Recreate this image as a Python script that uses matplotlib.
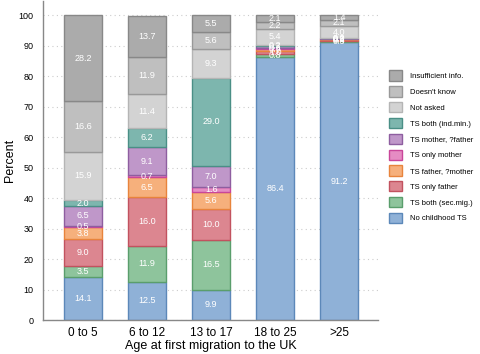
import numpy as np
import matplotlib
matplotlib.use("Agg")
import matplotlib.pyplot as plt
from matplotlib.patches import Patch

plt.rcParams['font.family'] = ['Liberation Sans', 'DejaVu Sans']

groups = ["0 to 5", "6 to 12", "13 to 17", "18 to 25", ">25"]

# stacked bottom to top
no_ts = [14.1, 12.5, 9.9, 86.4, 91.2]
both_sec = [3.5, 11.9, 16.5, 0.8, 0.3]
only_father = [9.0, 16.0, 10.0, 1.0, 0.4]
father_qmother = [3.8, 6.5, 5.6, 0.9, 0.3]
only_mother = [0.5, 0.7, 1.6, 0.3, 0.1]
mother_qfather = [6.5, 9.1, 7.0, 0.7, 0.2]
both_ind = [2.0, 6.2, 29.0, 0.2, 0.0]
not_asked = [15.9, 11.4, 9.3, 5.4, 4.0]
dont_know = [16.6, 11.9, 5.6, 2.2, 2.1]
insufficient = [28.2, 13.7, 5.5, 2.1, 1.4]

series = [
    ("No childhood TS", no_ts, "#8fb1d7", "#5c88b9"),
    ("TS both (sec.mig.)", both_sec, "#8ec49c", "#5a9e6c"),
    ("TS only father", only_father, "#dc8690", "#c2525f"),
    ("TS father, ?mother", father_qmother, "#f6b07c", "#e8843c"),
    ("TS only mother", only_mother, "#e58cc3", "#c9469a"),
    ("TS mother, ?father", mother_qfather, "#bf97c9", "#8e5ea0"),
    ("TS both (ind.min.)", both_ind, "#7db6ae", "#4a8f86"),
    ("Not asked", not_asked, "#d3d3d3", "#b5b5b5"),
    ("Doesn't know", dont_know, "#bfbfbf", "#999999"),
    ("Insufficient info.", insufficient, "#ababab", "#888888"),
]

fig = plt.figure(figsize=(4.8, 3.54), dpi=100)
ax = fig.add_axes([0.09, 0.096, 0.698, 0.9])

x = np.arange(len(groups))
bottom = np.zeros(len(groups))
handles = []
for name, vals, fc, ec in series:
    vals = np.array(vals)
    ax.bar(x, vals, 0.6, bottom=bottom, color=fc, edgecolor=ec, linewidth=1.0, zorder=2)
    for xi, b, v in zip(x, bottom, vals):
        ax.text(xi, b + v / 2, f"{v:.1f}", ha="center", va="center",
                color="white", fontsize=6.5, zorder=3)
    bottom += vals
    handles.append(Patch(facecolor=fc, edgecolor=ec, label=name))

ax.set_xlim(-0.625, 4.61)
ax.set_ylim(0, 104.6)
ax.set_yticks(np.arange(0, 101, 10))
ax.set_xticks(x)
ax.set_xticklabels(groups, fontsize=8.5)
ax.tick_params(axis="y", labelsize=6.5, length=0, pad=7)
ax.tick_params(axis="x", length=0, pad=5)
ax.yaxis.grid(True, linestyle=(0, (1, 3)), color="#cccccc", linewidth=0.8, zorder=0)
ax.set_axisbelow(True)
for s in ["top", "right"]:
    ax.spines[s].set_visible(False)
for s in ["left", "bottom"]:
    ax.spines[s].set_color("#888888")
    ax.spines[s].set_linewidth(1.0)

ax.set_ylabel("Percent", fontsize=9)
ax.yaxis.set_label_coords(-0.082, 0.5)
ax.set_xlabel("Age at first migration to the UK", fontsize=9, labelpad=1)

fig.legend(handles=handles[::-1], loc="upper left", bbox_to_anchor=(0.81, 0.801),
           frameon=False, fontsize=5.5, handlelength=1.7, handleheight=1.7,
           labelspacing=0.72, handletextpad=1.05, borderpad=0, borderaxespad=0)

fig.savefig("out.png", dpi=100)
